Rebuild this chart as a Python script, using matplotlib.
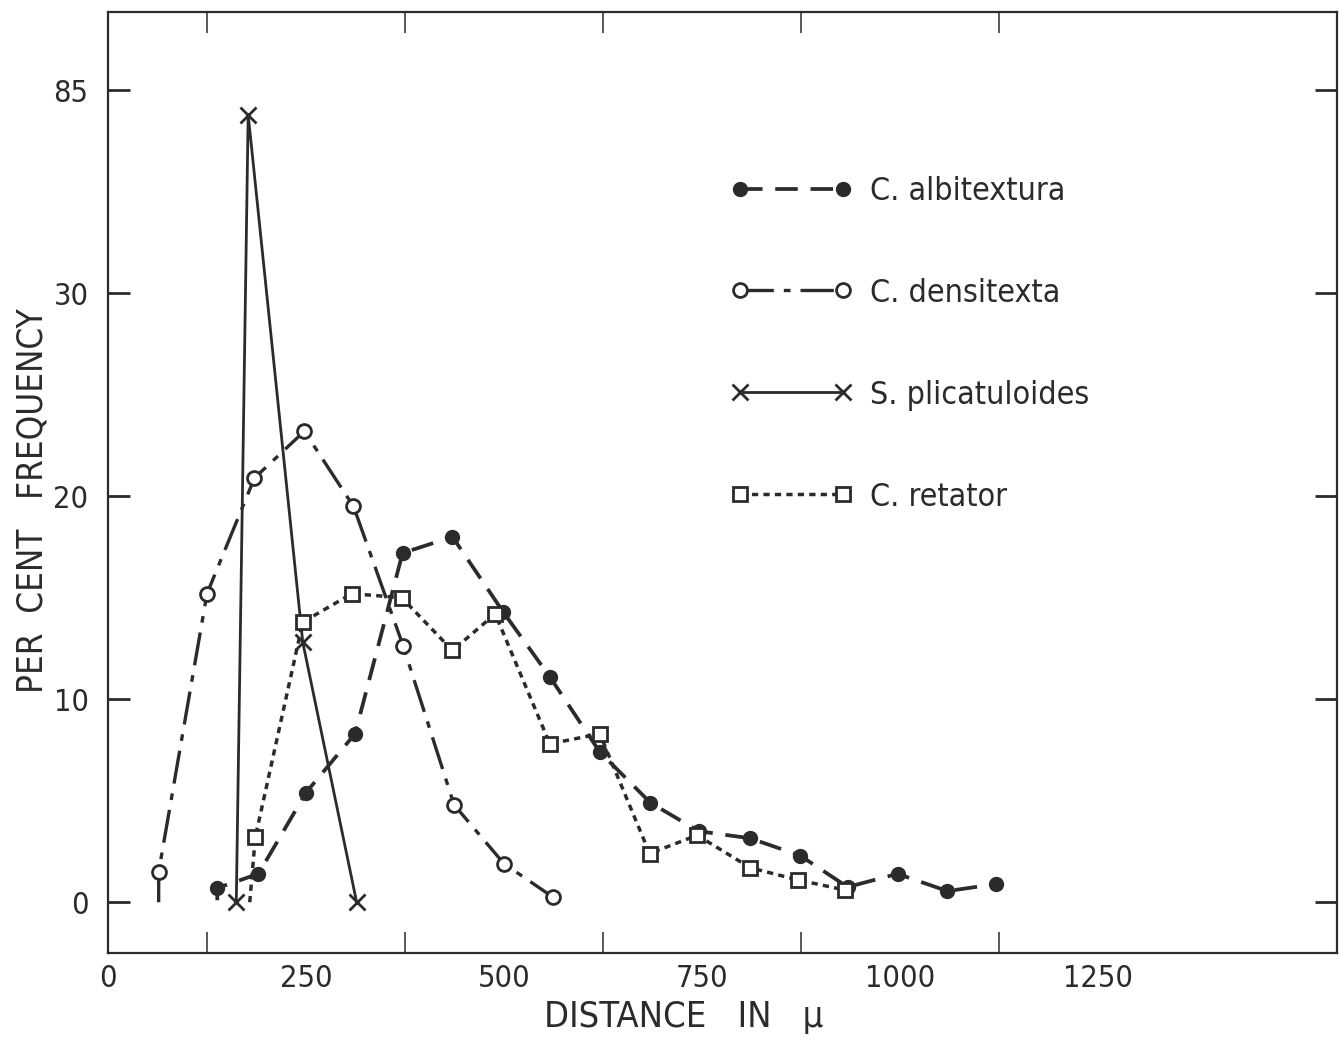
import matplotlib.pyplot as plt
import numpy as np

# distances in microns, percent frequency
albi_x = [138, 138, 190, 250, 312, 372, 435, 499, 558, 621, 685, 746, 811, 874, 934, 997, 1060, 1122]
albi_y = [0.1, 0.7, 1.4, 5.4, 8.3, 17.2, 18.0, 14.3, 11.1, 7.4, 4.9, 3.5, 3.15, 2.3, 0.75, 1.4, 0.55, 0.9]

dens_x = [64, 64, 125, 185, 248, 310, 373, 437, 500, 562]
dens_y = [0, 1.5, 15.2, 20.9, 23.2, 19.5, 12.6, 4.8, 1.9, 0.25]

plic_x = [162, 177, 246, 314]
plic_y = [0, 83.8, 12.8, 0]

ret_x = [179, 186, 246, 308, 371, 435, 489, 558, 621, 684, 744, 811, 871, 931]
ret_y = [0, 3.2, 13.8, 15.2, 15.0, 12.4, 14.2, 7.8, 8.3, 2.4, 3.3, 1.7, 1.1, 0.6]

names = ["C. albitextura", "C. densitexta", "S. plicatuloides", "C. retator"]
yticks = [0, 10, 20, 30, 40]
ytick_labels = ["0", "10", "20", "30", "85"]
xticks = [0, 250, 500, 750, 1000, 1250]

FONT = ["DejaVu Sans"]
INK = "#2b2b2b"


def broken(vals):
    # y axis is broken above 30: the top tick stands for 85
    return [v if v <= 40 else v - 45 for v in vals]


fig = plt.figure(figsize=(13.39, 10.43), dpi=100)
ax = fig.add_axes([108 / 1339, 90 / 1043, 1229 / 1339, 941 / 1043])

ax.plot(albi_x, broken(albi_y), color=INK, lw=2.7, dashes=(6, 3.4),
        marker="o", ms=10, mfc=INK, mec=INK, markevery=list(range(1, len(albi_x))),
        label=names[0])
ax.plot(dens_x, broken(dens_y), color=INK, lw=2.4, dashes=(10, 3, 2, 3),
        marker="o", ms=10, mfc="white", mec=INK, mew=2, markevery=list(range(1, len(dens_x))),
        label=names[1])
ax.plot(plic_x, broken(plic_y), color=INK, lw=2.0, ls="-",
        marker="x", ms=11, mec=INK, mew=2, label=names[2])
ax.plot(ret_x, broken(ret_y), color=INK, lw=2.5, dashes=(1.8, 1.5),
        marker="s", ms=10, mfc="white", mec=INK, mew=2, markevery=list(range(1, len(ret_x))),
        label=names[3])

ax.set_xlim(0, 1552)
ax.set_ylim(-2.5, 43.85)

ax.set_xticks(xticks)
ax.set_xticklabels([str(t) for t in xticks], fontsize=22, family=FONT,
                   fontstretch="condensed", color=INK)
ax.set_xticks(np.arange(125, 1300, 125), minor=True)
ax.set_yticks(yticks)
ax.set_yticklabels(ytick_labels, fontsize=22, family=FONT, fontstretch="condensed", color=INK)

ax.tick_params(axis="x", which="both", direction="in", top=True, length=15, width=1.1,
               pad=8, color=INK)
ax.tick_params(axis="x", which="major", length=0)
ax.tick_params(axis="y", direction="in", right=True, length=16, width=2, pad=14, color=INK)
for s in ax.spines.values():
    s.set_linewidth(1.6)
    s.set_color(INK)

ax.set_xlabel("DISTANCE   IN   μ", fontsize=26, family=FONT, fontstretch="condensed", color=INK)
ax.xaxis.set_label_coords(0.468, -0.05)
ax.set_ylabel("PER  CENT   FREQUENCY", fontsize=25, family=FONT, fontstretch="condensed",
              color=INK)
ax.yaxis.set_label_coords(-0.048, 0.481)

leg = ax.legend(loc="upper left", bbox_to_anchor=(594 / 1229, (953 - 147) / 941),
                frameon=False, numpoints=2, handlelength=3.8, handletextpad=0.55,
                labelspacing=2.22, prop={"family": FONT, "size": 23, "stretch": "condensed"})
for t in leg.get_texts():
    t.set_color(INK)

fig.savefig("out.png", dpi=100, facecolor="white")
